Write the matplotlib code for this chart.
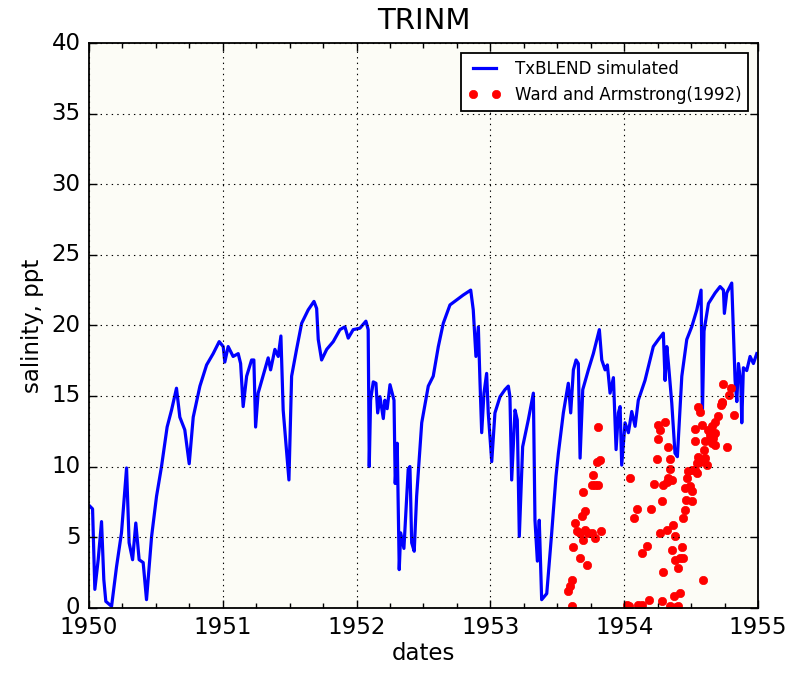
import matplotlib
matplotlib.use('Agg')
import matplotlib.pyplot as plt
from matplotlib.ticker import MultipleLocator, FormatStrFormatter

plt.style.use('classic')

# TxBLEND simulated salinity (decimal year, ppt)
sim_year = [1950.007, 1950.028, 1950.045, 1950.070, 1950.095, 1950.112, 1950.127, 1950.170,
            1950.207, 1950.244, 1950.282, 1950.301, 1950.327, 1950.351, 1950.376, 1950.406,
            1950.431, 1950.469, 1950.506, 1950.543, 1950.585, 1950.618, 1950.655, 1950.680,
            1950.717, 1950.750, 1950.780, 1950.830, 1950.880, 1950.929, 1950.974, 1951.004,
            1951.016, 1951.041, 1951.078, 1951.116, 1951.134, 1951.153, 1951.179, 1951.216,
            1951.233, 1951.246, 1951.265, 1951.315, 1951.340, 1951.358, 1951.390, 1951.415,
            1951.435, 1951.452, 1951.478, 1951.495, 1951.515, 1951.552, 1951.590, 1951.639,
            1951.682, 1951.702, 1951.714, 1951.739, 1951.777, 1951.826, 1951.876, 1951.913,
            1951.938, 1951.975, 1952.025, 1952.070, 1952.087, 1952.095, 1952.105, 1952.125,
            1952.145, 1952.158, 1952.175, 1952.200, 1952.212, 1952.229, 1952.250, 1952.280,
            1952.289, 1952.304, 1952.319, 1952.330, 1952.354, 1952.386, 1952.399, 1952.412,
            1952.431, 1952.449, 1952.487, 1952.536, 1952.573, 1952.611, 1952.648, 1952.698,
            1952.748, 1952.797, 1952.853, 1952.872, 1952.892, 1952.910, 1952.922, 1952.935,
            1952.952, 1952.972, 1952.984, 1953.010, 1953.034, 1953.072, 1953.109, 1953.134,
            1953.146, 1953.159, 1953.184, 1953.201, 1953.216, 1953.241, 1953.283, 1953.321,
            1953.333, 1953.351, 1953.365, 1953.383, 1953.421, 1953.458, 1953.490, 1953.508,
            1953.545, 1953.582, 1953.600, 1953.620, 1953.640, 1953.657, 1953.670, 1953.690,
            1953.732, 1953.769, 1953.814, 1953.832, 1953.857, 1953.874, 1953.894, 1953.919,
            1953.939, 1953.956, 1953.969, 1953.981, 1954.006, 1954.031, 1954.056, 1954.081,
            1954.105, 1954.155, 1954.217, 1954.255, 1954.292, 1954.305, 1954.318, 1954.330,
            1954.355, 1954.379, 1954.397, 1954.430, 1954.467, 1954.504, 1954.542, 1954.574,
            1954.584, 1954.596, 1954.629, 1954.679, 1954.716, 1954.741, 1954.748, 1954.766,
            1954.803, 1954.815, 1954.828, 1954.841, 1954.853, 1954.871, 1954.878, 1954.890,
            1954.915, 1954.940, 1954.965, 1954.990]
sim_salt = [7.2, 7.0, 1.3, 3.4, 6.1, 2.0, 0.45, 0.1,
            2.9, 5.3, 9.9, 4.6, 3.4, 6.0, 3.4, 3.2,
            0.57, 5.05, 7.9, 10.0, 12.8, 14.0, 15.55, 13.5,
            12.6, 10.2, 13.5, 15.7, 17.2, 18.0, 18.85, 18.5,
            17.4, 18.5, 17.8, 18.0, 17.3, 14.25, 16.4, 17.55,
            17.55, 12.8, 15.2, 16.85, 17.7, 16.85, 18.3, 17.8,
            19.25, 14.0, 10.95, 9.05, 16.4, 18.3, 20.15, 21.1,
            21.7, 21.2, 19.0, 17.55, 18.3, 18.85, 19.7, 19.9,
            19.1, 19.7, 19.8, 20.3, 19.7, 10.0, 14.7, 16.0,
            15.9, 13.8, 14.95, 13.4, 14.7, 14.1, 15.8, 14.7,
            8.8, 11.65, 2.7, 5.3, 4.2, 9.8, 10.0, 4.6,
            4.0, 7.9, 13.1, 15.7, 16.4, 18.5, 20.15, 21.45,
            21.8, 22.15, 22.5, 21.1, 17.8, 19.9, 16.1, 12.4,
            15.2, 16.6, 13.8, 10.35, 13.8, 14.95, 15.45, 15.7,
            14.95, 9.05, 14.0, 13.3, 5.05, 11.4, 13.3, 15.2,
            6.2, 3.3, 6.2, 0.57, 1.0, 5.3, 9.3, 10.95,
            13.8, 15.9, 13.8, 16.85, 17.55, 17.3, 10.6, 15.45,
            16.85, 18.0, 19.7, 17.55, 16.85, 17.2, 15.2, 16.3,
            11.2, 13.8, 14.25, 10.1, 13.1, 12.4, 13.9, 12.85,
            14.7, 16.1, 18.5, 19.0, 19.45, 16.1, 18.5, 17.3,
            14.5, 10.95, 10.7, 16.4, 19.0, 19.9, 21.1, 22.5,
            13.8, 19.6, 21.55, 22.3, 22.75, 22.5, 20.85, 22.3,
            23.0, 19.7, 16.1, 14.6, 17.3, 15.9, 13.1, 17.0,
            16.8, 17.8, 17.3, 18.0]

# Ward and Armstrong (1992) observations (decimal year, ppt)
obs_year = [1953.807, 1953.819, 1953.794, 1953.769, 1953.782, 1953.807, 1953.757, 1953.694,
            1953.707, 1953.682, 1953.632, 1953.645, 1953.670, 1953.707, 1953.732, 1953.757,
            1953.782, 1953.827, 1953.694, 1953.620, 1953.670, 1953.720, 1953.607, 1953.595,
            1953.582, 1953.612, 1954.043,
            1954.741, 1954.798, 1954.783, 1954.728, 1954.723, 1954.554, 1954.566, 1954.703,
            1954.678, 1954.579, 1954.653, 1954.629, 1954.678, 1954.641, 1954.529, 1954.666,
            1954.604, 1954.529, 1954.653, 1954.766, 1954.678, 1954.599, 1954.554, 1954.604,
            1954.566, 1954.541, 1954.616, 1954.529, 1954.504, 1954.479, 1954.467, 1954.541,
            1954.491, 1954.454, 1954.504, 1954.459, 1954.504, 1954.454, 1954.442, 1954.367,
            1954.317, 1954.267, 1954.379, 1954.354, 1954.429, 1954.379, 1954.417, 1954.404,
            1954.442, 1954.292, 1954.586, 1954.417, 1954.404, 1954.280, 1954.188, 1954.130,
            1954.105, 1954.018, 1954.036, 1954.255, 1954.267, 1954.305, 1954.255, 1954.330,
            1954.242, 1954.342, 1954.342, 1954.330, 1954.317, 1954.354, 1954.292, 1954.225,
            1954.280, 1954.200, 1954.093, 1954.073, 1954.168, 1954.130, 1954.342, 1954.387,
            1954.374, 1954.820, 1954.729]
obs_salt = [12.77, 10.48, 10.29, 9.42, 8.71, 8.71, 8.71, 8.19,
            6.82, 6.47, 6.0, 5.4, 5.29, 5.52, 5.29, 5.29,
            4.93, 5.4, 4.81, 4.27, 3.52, 3.04, 1.98, 1.51,
            1.16, 0.1, 9.18,
            15.86, 15.55, 15.08, 14.54, 14.37, 14.25, 13.9, 13.59,
            13.19, 12.96, 12.84, 12.6, 12.37, 12.25, 12.65, 12.01,
            11.78, 11.78, 11.66, 11.38, 11.54, 11.19, 10.71, 10.6,
            10.29, 10.24, 10.12, 9.77, 9.77, 9.65, 9.18, 9.53,
            8.59, 8.47, 8.24, 7.65, 7.53, 6.94, 6.35, 5.88,
            5.52, 5.29, 5.05, 4.06, 4.3, 3.4, 3.52, 2.81,
            3.52, 2.5, 1.94, 1.04, 0.1, 0.5, 0.52, 0.21,
            0.21, 0.21, 0.1, 12.96, 12.6, 13.19, 11.94, 11.42,
            10.53, 10.53, 9.82, 9.18, 8.94, 9.06, 8.71, 8.76,
            7.53, 6.99, 6.99, 6.35, 4.34, 3.87, 0.1, 0.05,
            0.8, 13.66, 14.49]

fig = plt.figure(figsize=(7.93, 6.73), dpi=100, facecolor='white')
ax = fig.add_axes([0.112, 0.097, 0.844, 0.839], facecolor='#fcfcf6')

ax.plot(sim_year, sim_salt, 'b-', lw=2.3, label='TxBLEND simulated')
ax.plot(obs_year, obs_salt, 'ro', ms=6, mec='r', label='Ward and Armstrong(1992)')

ax.set_xlim(1950, 1955)
ax.set_ylim(0, 40)
ax.xaxis.set_major_locator(MultipleLocator(1))
ax.xaxis.set_minor_locator(MultipleLocator(0.25))
ax.xaxis.set_major_formatter(FormatStrFormatter('%d'))
ax.yaxis.set_major_locator(MultipleLocator(5))
ax.yaxis.set_minor_locator(plt.NullLocator())
ax.tick_params(which='both', direction='in', top=True, right=True, labelsize=16.5, pad=6)
ax.tick_params(which='major', length=6, width=1.0)
ax.tick_params(which='minor', length=3.5, width=1.0)
for s in ax.spines.values():
    s.set_linewidth(1.3)

ax.grid(True, which='major', color='k', linestyle=':', linewidth=0.8)

ax.set_title('TRINM', fontsize=21, pad=10)
ax.set_xlabel('dates', fontsize=16.5, labelpad=2)
ax.set_ylabel('salinity, ppt', fontsize=16.5)

leg = ax.legend(loc='upper right', numpoints=2, fontsize=12, frameon=True,
                fancybox=False, borderaxespad=0.6, handlelength=2.0)
leg.get_frame().set_linewidth(1.3)

fig.savefig('out.png', dpi=100)
